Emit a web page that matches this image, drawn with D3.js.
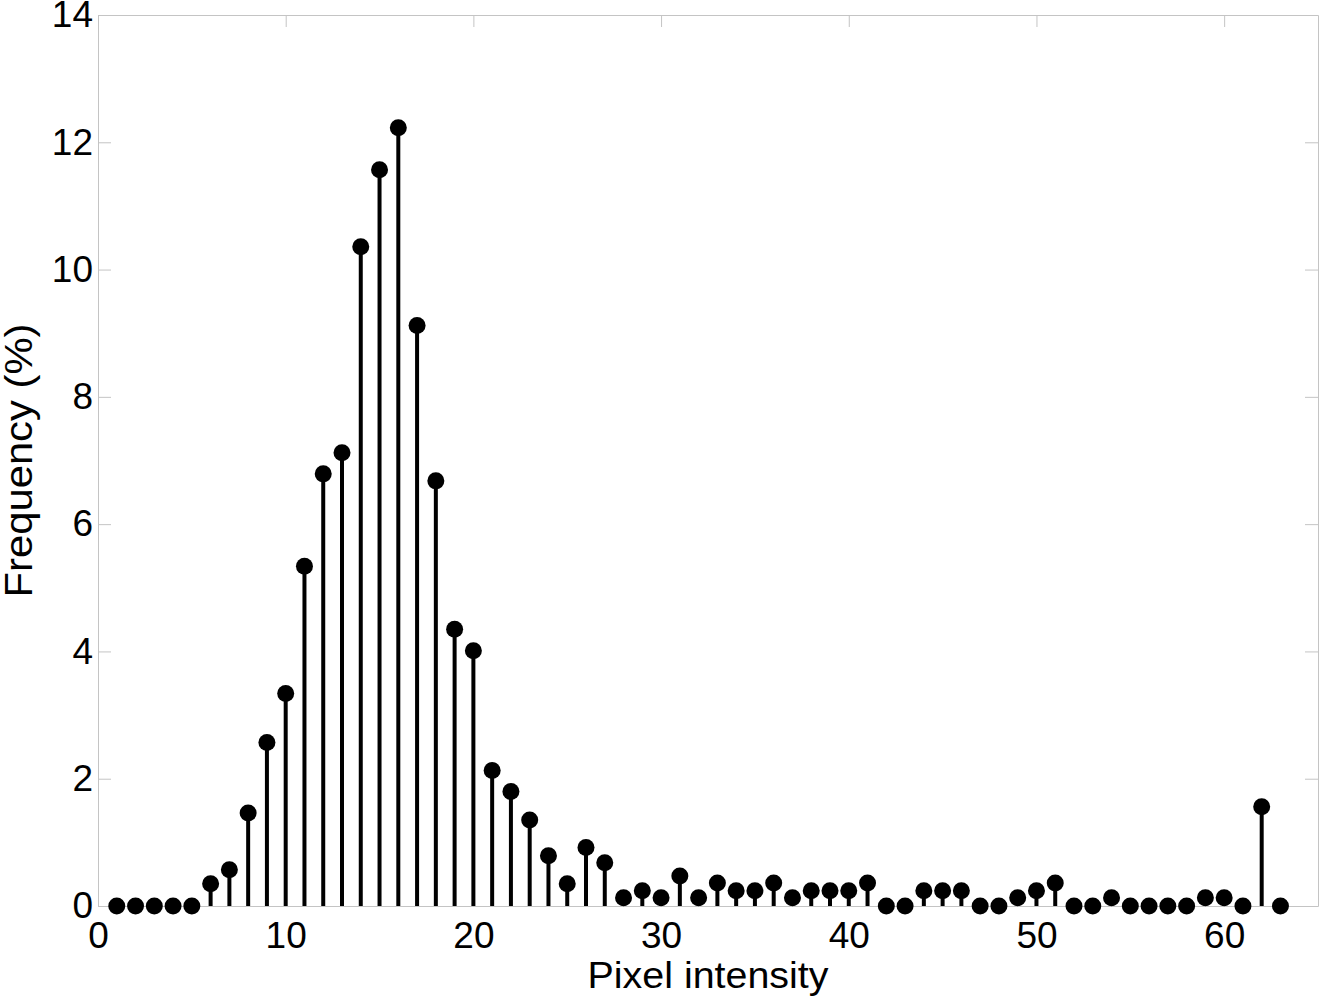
<!DOCTYPE html>
<html>
<head>
<meta charset="utf-8">
<script src="https://cdn.jsdelivr.net/npm/d3@7"></script>
<style>
  html, body { margin: 0; padding: 0; background: #fff; }
  svg { display: block; }
</style>
</head>
<body>
<svg id="chart" width="1321" height="1000"></svg>
<script>
// ---- data ----
const intensities = d3.range(1, 64); // 1..63
const frequencies = [
  0, 0, 0, 0, 0, 0.35, 0.57, 1.46, 2.57, 3.34,
  5.34, 6.79, 7.12, 10.36, 11.57, 12.23, 9.12, 6.68, 4.35, 4.01,
  2.13, 1.80, 1.35, 0.79, 0.35, 0.92, 0.68, 0.13, 0.24, 0.13,
  0.47, 0.13, 0.36, 0.24, 0.24, 0.36, 0.13, 0.24, 0.24, 0.24,
  0.36, 0, 0, 0.24, 0.24, 0.24, 0, 0, 0.13, 0.24,
  0.36, 0, 0, 0.13, 0, 0, 0, 0, 0.13, 0.13,
  0, 1.56, 0
];
const xTicks = [0, 10, 20, 30, 40, 50, 60];
const yTicks = [0, 2, 4, 6, 8, 10, 12, 14];
const xLabel = "Pixel intensity";
const yLabel = "Frequency (%)";

// ---- layout ----
const svg = d3.select("#chart");
const mLeft = 98, mRight = 1318, mTop = 15, mBottom = 906;
const x = d3.scaleLinear().domain([0, 65]).range([mLeft, mRight]);
const y = d3.scaleLinear().domain([0, 14]).range([mBottom, mTop]);
const font = "'Liberation Sans', Arial, sans-serif";
const axisColor = "#c4c4c4";

function styleAxis(g) {
  g.select(".domain").attr("stroke", axisColor).attr("stroke-width", 1);
  g.selectAll(".tick line").attr("stroke", axisColor).attr("stroke-width", 1);
  g.selectAll(".tick text")
    .attr("fill", "#000")
    .style("font-family", font)
    .style("font-size", "37px");
}

svg.append("g")
  .attr("transform", `translate(0,${mBottom})`)
  .call(d3.axisBottom(x).tickValues(xTicks).tickSize(-12).tickPadding(16).tickSizeOuter(0))
  .call(styleAxis);

svg.append("g")
  .attr("transform", `translate(0,${mTop})`)
  .call(d3.axisTop(x).tickValues(xTicks).tickSize(-12).tickFormat("").tickSizeOuter(0))
  .call(styleAxis);

svg.append("g")
  .attr("transform", `translate(${mLeft},0)`)
  .call(d3.axisLeft(y).tickValues(yTicks).tickSize(-13).tickPadding(5).tickSizeOuter(0))
  .call(styleAxis);

svg.append("g")
  .attr("transform", `translate(${mRight},0)`)
  .call(d3.axisRight(y).tickValues(yTicks).tickSize(-13).tickFormat("").tickSizeOuter(0))
  .call(styleAxis);

// ---- stems ----
const data = intensities.map((v, i) => ({ x: v, y: frequencies[i] }));

svg.append("g")
  .selectAll("line")
  .data(data)
  .join("line")
  .attr("x1", d => x(d.x))
  .attr("x2", d => x(d.x))
  .attr("y1", y(0))
  .attr("y2", d => y(d.y))
  .attr("stroke", "#000")
  .attr("stroke-width", 4);

svg.append("g")
  .selectAll("circle")
  .data(data)
  .join("circle")
  .attr("cx", d => x(d.x))
  .attr("cy", d => y(d.y))
  .attr("r", 8.5)
  .attr("fill", "#000");

// ---- labels ----
svg.append("text")
  .attr("x", (mLeft + mRight) / 2)
  .attr("y", 988)
  .attr("text-anchor", "middle")
  .attr("textLength", 241)
  .attr("lengthAdjust", "spacingAndGlyphs")
  .style("font-family", font)
  .style("font-size", "36px")
  .attr("fill", "#000")
  .text(xLabel);

svg.append("text")
  .attr("transform", `translate(32,${(mTop + mBottom) / 2}) rotate(-90)`)
  .attr("text-anchor", "middle")
  .attr("textLength", 274)
  .attr("lengthAdjust", "spacingAndGlyphs")
  .style("font-family", font)
  .style("font-size", "38px")
  .attr("fill", "#000")
  .text(yLabel);
</script>
</body>
</html>
